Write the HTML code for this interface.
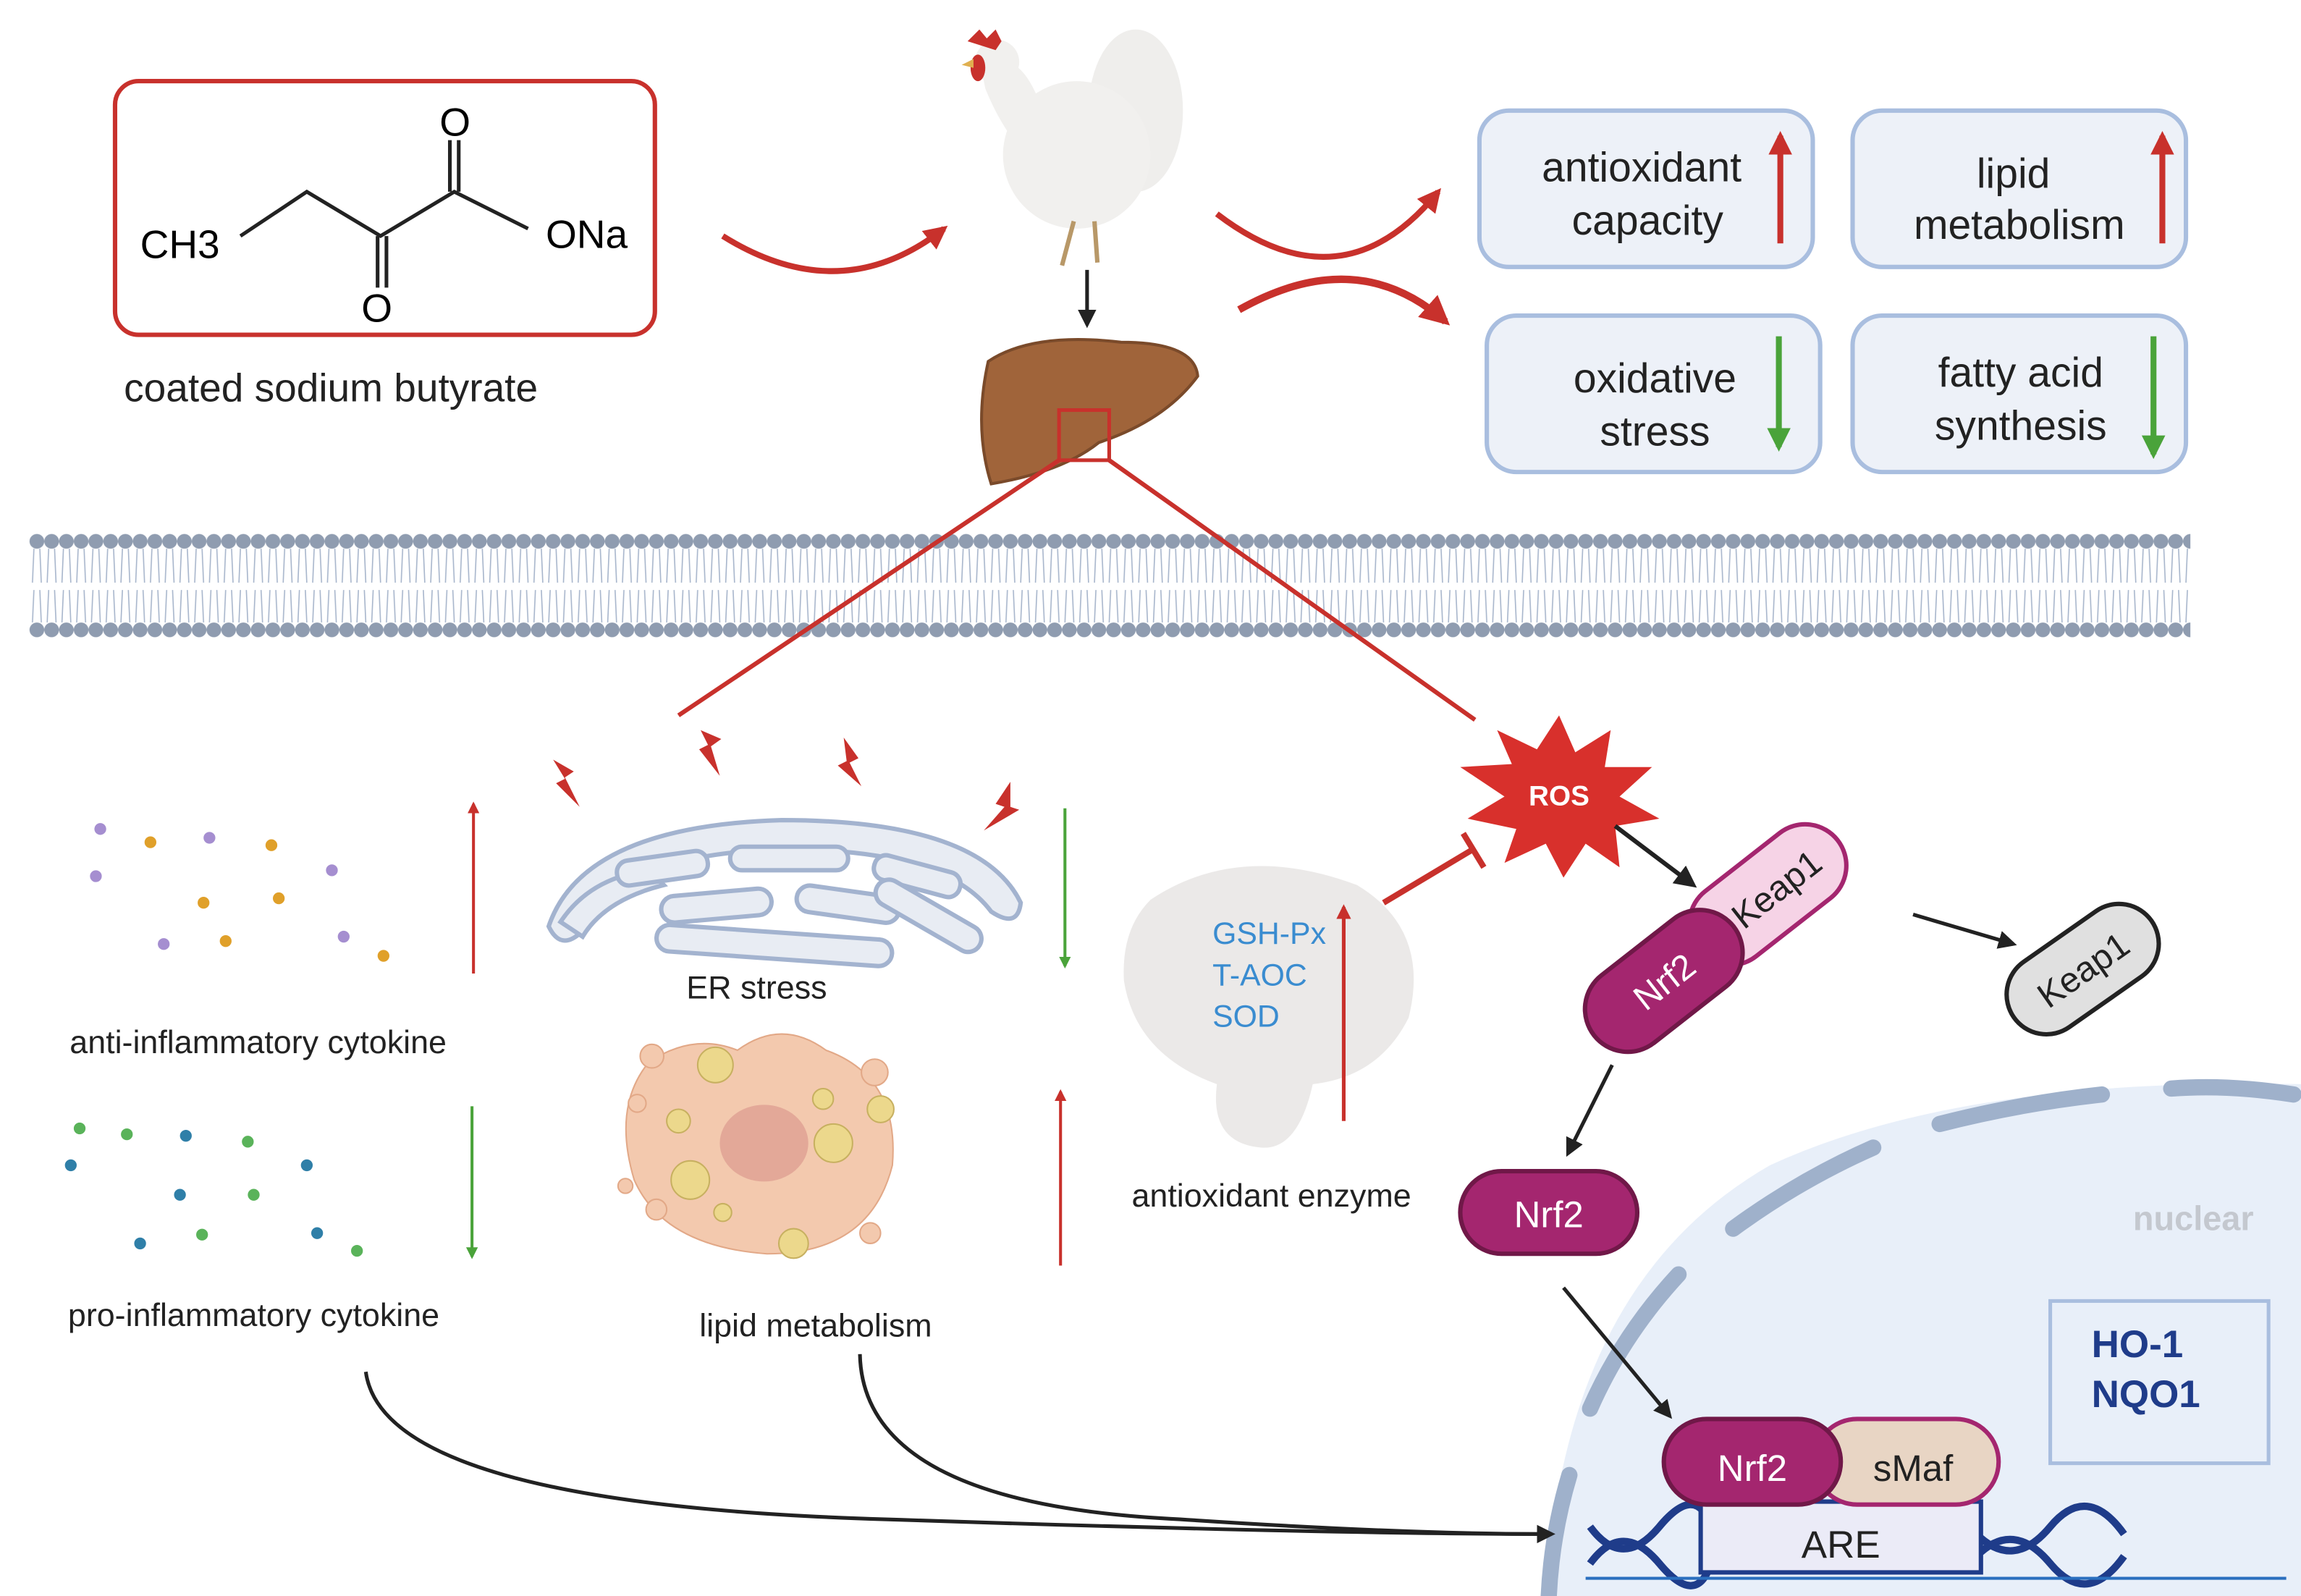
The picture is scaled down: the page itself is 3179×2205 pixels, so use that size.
<!DOCTYPE html><html><head><meta charset="utf-8"><style>html,body{margin:0;padding:0;background:#fff}svg{display:block}text{font-family:"Liberation Sans",sans-serif}</style></head><body>
<svg width="3179" height="2205" viewBox="0 0 1560 1082" preserveAspectRatio="none" xmlns="http://www.w3.org/2000/svg">
<defs>
<marker id="ar" viewBox="0 0 10 10" refX="8" refY="5" markerWidth="5" markerHeight="5" orient="auto"><path d="M0,0 L10,5 L0,10 z" fill="#222"/></marker>
<marker id="rr" viewBox="0 0 10 10" refX="8" refY="5" markerWidth="4" markerHeight="4" orient="auto"><path d="M0,0 L10,5 L0,10 z" fill="#c8312c"/></marker>
<marker id="gr" viewBox="0 0 10 10" refX="8" refY="5" markerWidth="4" markerHeight="4" orient="auto"><path d="M0,0 L10,5 L0,10 z" fill="#4aa33a"/></marker>
<pattern id="mem" x="20" y="362" width="10" height="70" patternUnits="userSpaceOnUse"><path d="M3,10 L2,33 M7,10 L8,33 M3,38 L2,60 M7,38 L8,60" stroke="#a8b6cc" stroke-width="0.8"/><circle cx="5" cy="5" r="5" fill="#8f9cb0"/><circle cx="5" cy="65" r="5" fill="#8f9cb0"/></pattern>
</defs>
<!-- molecule box -->
<rect x="78" y="55" width="366" height="172" rx="16" fill="none" stroke="#c8312c" stroke-width="3"/>
<g stroke="#222" stroke-width="2.5" fill="none"><path d="M163,160 L208,130 L258,160 L308,130 L358,155"/><path d="M256,160 L256,195 M262,160 L262,195"/><path d="M305,130 L305,95 M311,130 L311,95"/></g>
<text x="95" y="175" font-size="27">CH3</text><text x="370" y="168" font-size="27">ONa</text>
<text x="298" y="92" font-size="27">O</text><text x="245" y="218" font-size="27">O</text>
<text x="84" y="272" font-size="27" fill="#222">coated sodium butyrate</text>
<!-- red curved arrows -->
<path d="M490,160 Q570,210 640,155" fill="none" stroke="#c8312c" stroke-width="4" marker-end="url(#rr)"/>
<path d="M825,145 Q910,210 975,130" fill="none" stroke="#c8312c" stroke-width="4" marker-end="url(#rr)"/>
<path d="M840,210 Q920,165 980,218" fill="none" stroke="#c8312c" stroke-width="5" marker-end="url(#rr)"/>
<!-- chicken -->
<ellipse cx="770" cy="75" rx="32" ry="55" fill="#efeeec"/>
<ellipse cx="730" cy="105" rx="50" ry="50" fill="#f1f0ee"/>
<path d="M665,45 Q690,30 705,70 L700,110 Q680,90 668,60z" fill="#f1f0ee"/>
<circle cx="676" cy="42" r="15" fill="#f1f0ee"/>
<path d="M656,28 l8,-8 l5,6 l6,-6 l4,8 l-4,6z" fill="#c8312c"/><ellipse cx="663" cy="46" rx="5" ry="9" fill="#c8312c"/><path d="M660,40 l-8,4 l8,2z" fill="#e0b050"/>
<path d="M728,150 l-8,30 M742,150 l2,28" stroke="#b89868" stroke-width="3"/>
<path d="M737,183 L737,220" stroke="#222" stroke-width="2.5" marker-end="url(#ar)"/>
<!-- liver -->
<path d="M670,245 Q700,225 760,232 Q810,232 812,255 Q790,285 745,300 Q720,320 672,328 Q660,290 670,245z" fill="#a0643a" stroke="#7a4a2a" stroke-width="2"/>
<rect x="718" y="278" width="34" height="34" fill="none" stroke="#c8312c" stroke-width="2.5"/>
<!-- boxes -->
<g fill="#edf1f8" stroke="#a9bedf" stroke-width="3"><rect x="1003" y="75" width="226" height="106" rx="20"/><rect x="1256" y="75" width="226" height="106" rx="20"/><rect x="1008" y="214" width="226" height="106" rx="20"/><rect x="1256" y="214" width="226" height="106" rx="20"/></g>
<g font-size="28" fill="#222" text-anchor="middle"><text x="1113" y="123">antioxidant</text><text x="1117" y="159">capacity</text><text x="1365" y="127">lipid</text><text x="1369" y="162">metabolism</text><text x="1122" y="266">oxidative</text><text x="1122" y="302">stress</text><text x="1370" y="262">fatty acid</text><text x="1370" y="298">synthesis</text></g>
<g stroke-width="4"><path d="M1207,165 L1207,92" stroke="#c8312c" marker-end="url(#rr)"/><path d="M1466,165 L1466,92" stroke="#c8312c" marker-end="url(#rr)"/><path d="M1206,228 L1206,303" stroke="#4aa33a" marker-end="url(#gr)"/><path d="M1460,228 L1460,308" stroke="#4aa33a" marker-end="url(#gr)"/></g>
<!-- membrane -->
<rect x="20" y="362" width="1465" height="70" fill="url(#mem)"/>
<!-- zoom lines -->
<path d="M718,312 L460,485 M752,312 L1000,488" stroke="#c8312c" stroke-width="3"/>
<!-- bolts -->
<g fill="#c8312c"><path d="M375,515 l14,8 l-6,4 l10,20 l-16,-16 l6,-3z"/><path d="M475,495 l14,6 l-7,5 l6,20 l-14,-18 l6,-3z"/><path d="M572,500 l10,14 l-6,3 l8,16 l-16,-14 l6,-3z"/><path d="M685,530 l-10,15 l6,2 l-14,16 l24,-14 l-6,-2z"/></g>
<!-- ER -->
<g fill="#e8ecf3" stroke="#a3b3cf" stroke-width="3">
<path d="M372,628 Q395,560 530,556 Q665,556 692,612 Q690,630 672,618 Q640,575 530,576 Q420,578 394,632 Q380,645 372,628z"/>
<path d="M380,625 Q400,595 440,590 L450,600 Q410,610 395,635z"/>
<rect x="418" y="580" width="62" height="17" rx="8" transform="rotate(-8 450 588)"/>
<rect x="495" y="574" width="80" height="16" rx="8"/>
<rect x="592" y="585" width="60" height="17" rx="8" transform="rotate(15 620 593)"/>
<rect x="448" y="605" width="75" height="18" rx="9" transform="rotate(-5 485 612)"/>
<rect x="540" y="604" width="70" height="18" rx="9" transform="rotate(8 575 612)"/>
<rect x="590" y="612" width="80" height="18" rx="9" transform="rotate(30 630 620)"/>
<rect x="445" y="632" width="160" height="18" rx="9" transform="rotate(4 525 640)"/>
</g>
<text x="513" y="677" font-size="22" text-anchor="middle" fill="#222">ER stress</text>
<!-- lipid cell -->
<path d="M440,720 Q470,700 500,712 Q530,690 560,712 Q610,730 605,790 Q590,850 520,850 Q450,845 430,800 Q415,750 440,720z" fill="#f3c9ae" stroke="#e2a887"/>
<ellipse cx="518" cy="775" rx="30" ry="26" fill="#e3a898"/>
<g fill="#f3c9ae" stroke="#e2a887"><circle cx="442" cy="716" r="8"/><circle cx="432" cy="748" r="6"/><circle cx="593" cy="727" r="9"/><circle cx="590" cy="836" r="7"/><circle cx="424" cy="804" r="5"/><circle cx="445" cy="820" r="7"/></g>
<g fill="#ecd88c" stroke="#c7b060"><circle cx="485" cy="722" r="12"/><circle cx="460" cy="760" r="8"/><circle cx="468" cy="800" r="13"/><circle cx="565" cy="775" r="13"/><circle cx="597" cy="752" r="9"/><circle cx="538" cy="843" r="10"/><circle cx="558" cy="745" r="7"/><circle cx="490" cy="822" r="6"/></g>
<text x="553" y="906" font-size="22" text-anchor="middle" fill="#222">lipid metabolism</text>
<path d="M719,858 L719,740" stroke="#c8312c" stroke-width="2" marker-end="url(#rr)"/>
<path d="M722,548 L722,655" stroke="#4aa33a" stroke-width="2" marker-end="url(#gr)"/>
<!-- cytokines -->
<g fill="#a58ed0"><circle cx="68" cy="562" r="4"/><circle cx="142" cy="568" r="4"/><circle cx="65" cy="594" r="4"/><circle cx="225" cy="590" r="4"/><circle cx="111" cy="640" r="4"/><circle cx="233" cy="635" r="4"/></g>
<g fill="#e0a02a"><circle cx="102" cy="571" r="4"/><circle cx="184" cy="573" r="4"/><circle cx="138" cy="612" r="4"/><circle cx="189" cy="609" r="4"/><circle cx="153" cy="638" r="4"/><circle cx="260" cy="648" r="4"/></g>
<text x="175" y="714" font-size="22" text-anchor="middle" fill="#222">anti-inflammatory cytokine</text>
<path d="M321,660 L321,545" stroke="#c8312c" stroke-width="2" marker-end="url(#rr)"/>
<g fill="#5ab35a"><circle cx="54" cy="765" r="4"/><circle cx="86" cy="769" r="4"/><circle cx="168" cy="774" r="4"/><circle cx="172" cy="810" r="4"/><circle cx="137" cy="837" r="4"/><circle cx="242" cy="848" r="4"/></g>
<g fill="#2f7fa8"><circle cx="48" cy="790" r="4"/><circle cx="126" cy="770" r="4"/><circle cx="208" cy="790" r="4"/><circle cx="122" cy="810" r="4"/><circle cx="95" cy="843" r="4"/><circle cx="215" cy="836" r="4"/></g>
<text x="172" y="899" font-size="22" text-anchor="middle" fill="#222">pro-inflammatory cytokine</text>
<path d="M320,750 L320,852" stroke="#4aa33a" stroke-width="2" marker-end="url(#gr)"/>
<!-- enzyme blob -->
<path d="M780,610 Q840,570 920,600 Q970,630 955,690 Q935,730 890,735 Q880,780 855,778 Q820,775 825,735 Q770,715 762,665 Q760,630 780,610z" fill="#ebe9e8"/>
<g font-size="21" fill="#3a8cd0"><text x="822" y="640">GSH-Px</text><text x="822" y="668">T-AOC</text><text x="822" y="696">SOD</text></g>
<path d="M911,760 L911,615" stroke="#c8312c" stroke-width="2.5" marker-end="url(#rr)"/>
<text x="862" y="818" font-size="22" text-anchor="middle" fill="#222">antioxidant enzyme</text>
<path d="M938,612 L1000,575 M992,565 L1006,588" stroke="#c8312c" stroke-width="4"/>
<!-- ROS -->
<path d="M1057,485 L1068,510 L1092,495 L1088,520 L1120,520 L1098,540 L1125,555 L1095,560 L1098,588 L1075,572 L1060,595 L1048,572 L1020,585 L1028,562 L995,555 L1020,540 L990,520 L1025,518 L1015,495 L1042,508z" fill="#d8302c"/>
<text x="1057" y="546" font-size="19" font-weight="bold" fill="#fff" text-anchor="middle">ROS</text>
<path d="M1095,560 L1148,600" stroke="#222" stroke-width="3" marker-end="url(#ar)"/>
<!-- Nrf2-Keap1 complex -->
<g transform="rotate(-38 1175 630)"><rect x="1148" y="598" width="120" height="56" rx="28" fill="#f6d3e6" stroke="#a4266f" stroke-width="3"/><text x="1215" y="635" font-size="24" fill="#222" text-anchor="middle">Keap1</text></g>
<g transform="rotate(-38 1128 665)"><rect x="1068" y="636" width="120" height="58" rx="29" fill="#a4266f" stroke="#701848" stroke-width="3"/><text x="1128" y="674" font-size="24" fill="#fff" text-anchor="middle">Nrf2</text></g>
<path d="M1297,620 L1365,640" stroke="#222" stroke-width="2.5" marker-end="url(#ar)"/>
<g transform="rotate(-35 1412 657)"><rect x="1355" y="630" width="114" height="54" rx="27" fill="#e0e0e0" stroke="#222" stroke-width="3"/><text x="1412" y="666" font-size="24" fill="#222" text-anchor="middle">Keap1</text></g>
<path d="M1093,722 L1063,782" stroke="#222" stroke-width="2.5" marker-end="url(#ar)"/>
<rect x="990" y="794" width="120" height="56" rx="28" fill="#a4266f" stroke="#701848" stroke-width="3"/><text x="1050" y="832" font-size="25" fill="#fff" text-anchor="middle">Nrf2</text>
<!-- nucleus -->
<path d="M1048,1082 Q1060,870 1200,790 Q1330,730 1560,735 L1560,1082z" fill="#e8eff9"/>
<g fill="none" stroke="#9fb1cb" stroke-width="11" stroke-linecap="round"><path d="M1555,742 Q1510,735 1472,738"/><path d="M1425,742 Q1370,748 1315,762"/><path d="M1270,778 Q1220,800 1175,833"/><path d="M1138,864 Q1100,905 1078,955"/><path d="M1064,1000 Q1052,1040 1050,1082"/></g>
<text x="1487" y="834" font-size="23" font-weight="bold" fill="#c4c8cf" text-anchor="middle">nuclear</text>
<rect x="1390" y="882" width="148" height="110" fill="none" stroke="#a9bedf" stroke-width="2.5"/>
<text x="1418" y="920" font-size="26" font-weight="bold" fill="#1f3c8a">HO-1</text><text x="1418" y="954" font-size="26" font-weight="bold" fill="#1f3c8a">NQO1</text>
<path d="M1060,873 L1132,960" stroke="#222" stroke-width="2.5" marker-end="url(#ar)"/>
<!-- DNA -->
<g fill="none" stroke="#1f3c8a" stroke-width="5"><path d="M1078,1035 Q1100,1065 1125,1035 T1160,1035"/><path d="M1078,1060 Q1100,1030 1125,1060 T1160,1060"/><path d="M1340,1040 Q1365,1065 1390,1035 T1440,1040"/><path d="M1340,1055 Q1365,1030 1390,1060 T1440,1055"/></g>
<rect x="1153" y="1018" width="190" height="48" fill="#ebebf7" stroke="#1f3c8a" stroke-width="3"/>
<text x="1248" y="1056" font-size="26" fill="#222" text-anchor="middle">ARE</text>
<rect x="1230" y="962" width="125" height="58" rx="29" fill="#e8d5c4" stroke="#a4266f" stroke-width="3"/><text x="1297" y="1004" font-size="25" fill="#222" text-anchor="middle">sMaf</text>
<rect x="1128" y="962" width="120" height="58" rx="29" fill="#a4266f" stroke="#701848" stroke-width="3"/><text x="1188" y="1004" font-size="25" fill="#fff" text-anchor="middle">Nrf2</text>
<path d="M1075,1070 L1550,1070" stroke="#2a6fbf" stroke-width="2"/>
<!-- curves to ARE -->
<path d="M248,930 Q260,1020 600,1030 Q900,1040 1052,1040" fill="none" stroke="#222" stroke-width="2.5" marker-end="url(#ar)"/>
<path d="M583,918 Q585,1020 800,1030 Q950,1040 1050,1040" fill="none" stroke="#222" stroke-width="2.5"/>
</svg></body></html>
